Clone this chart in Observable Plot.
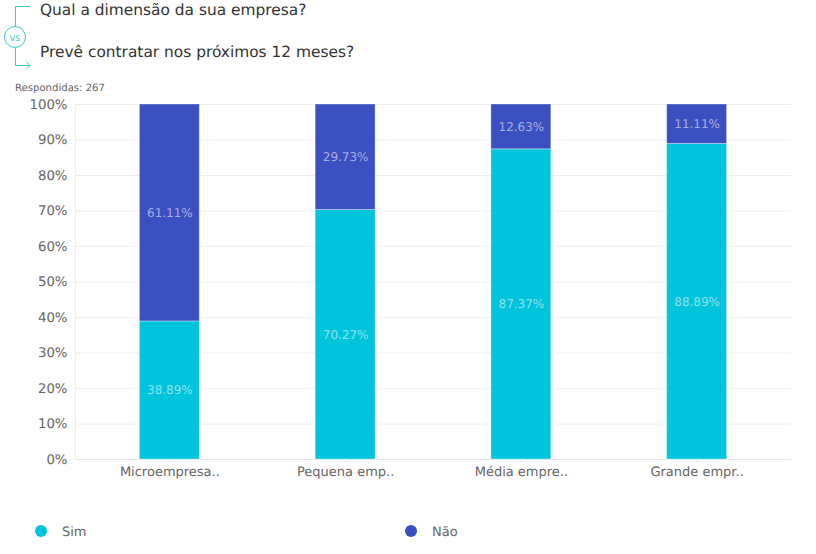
<!DOCTYPE html>
<html><head><meta charset="utf-8">
<script src="https://cdn.jsdelivr.net/npm/d3@7"></script>
<script src="https://cdn.jsdelivr.net/npm/@observablehq/plot@0.6"></script>
<style>
html,body{margin:0;padding:0;background:#fff;width:816px;height:554px;overflow:hidden;font-family:"DejaVu Sans",sans-serif;text-rendering:geometricPrecision}
svg text{text-rendering:geometricPrecision}
#wrap{position:relative;width:816px;height:554px}
.q{position:absolute;left:40px;font-size:15.4px;color:#333;white-space:nowrap;line-height:18px}
#resp{position:absolute;left:15px;top:82px;font-size:10.1px;color:#666;line-height:13px}
#icon{position:absolute;left:0;top:0}
#chart{position:absolute;left:0;top:95px}
.leg{position:absolute;top:525px;font-size:13px;color:#666;line-height:15px}
.leg i{position:absolute;top:0;width:12px;height:12px;border-radius:50%}
</style></head><body>
<div id="wrap">
<svg id="icon" width="40" height="80" fill="none" stroke="#3fc9c9" stroke-width="1">
<path d="M30 6.5H15.5V26.5M15.5 47.5V65.5H30M26 61.5L30 65.5L26 69.5"/>
<circle cx="15" cy="37" r="10.5"/>
<text x="15" y="40.5" font-size="10" text-anchor="middle" fill="#3fc9c9" stroke="none" font-family="DejaVu Sans">vs</text>
</svg>
<div class="q" style="top:1px">Qual a dimensão da sua empresa?</div>
<div class="q" style="top:43px">Prevê contratar nos próximos 12 meses?</div>
<div id="resp">Respondidas: 267</div>
<div id="chart"></div>
<div class="leg" style="left:62px"><i style="left:-27px;background:#00c3dc"></i>Sim</div>
<div class="leg" style="left:432px"><i style="left:-27px;background:#3b4fc0"></i>Não</div>
</div>
<script>
const categories = ["Microempresa..", "Pequena emp..", "Média empre..", "Grande empr.."];
const series = ["Sim", "Não"];
const sim = [38.89, 70.27, 87.37, 88.89];
const nao = [61.11, 29.73, 12.63, 11.11];
const colors = ["#00c3dc", "#3b4fc0"];
const yTicks = [0,10,20,30,40,50,60,70,80,90,100];

const rows = [];
categories.forEach((c,i)=>{
  rows.push({c, s:series[0], v:sim[i]});
  rows.push({c, s:series[1], v:nao[i]});
});
const stack = o => Plot.stackY({x:"c", y:"v", z:"s", order:series, ...o});
const plot = Plot.plot({
  width:816, height:400,
  marginLeft:75, marginRight:25, marginTop:9, marginBottom:36,
  style:{fontFamily:'"DejaVu Sans",sans-serif', background:"transparent"},
  x:{domain:categories, paddingInner:0.659, paddingOuter:0.3665, align:0.5, round:false, label:null},
  y:{domain:[0,100], label:null},
  color:{domain:series, range:colors},
  marks:[
    Plot.gridY(yTicks,{stroke:"#eeeeee", strokeOpacity:1}),
    Plot.frame({anchor:"left", stroke:"#eeeeee"}),
    Plot.ruleY([0],{stroke:"#e6e6e6"}),
    Plot.barY(rows, stack({fill:"s", stroke:"#ffffff", strokeOpacity:0.35, strokeWidth:1})),
    Plot.text(rows, stack({text:d=>d.v.toFixed(2)+"%", fill:"#ffffff", fillOpacity:0.55, fontSize:12})),
    Plot.axisY({ticks:yTicks, tickFormat:d=>d+"%", tickSize:0, tickPadding:8, fontSize:13.3, color:"#666", stroke:"#666", label:null}),
    Plot.axisX({tickSize:4, tickPadding:3, fontSize:13, stroke:"#e6e6e6", fill:"#666", label:null})
  ]
});
document.getElementById("chart").appendChild(plot);
</script>
</body></html>
